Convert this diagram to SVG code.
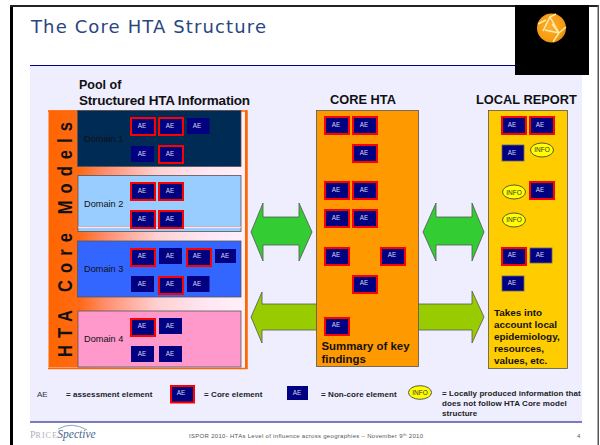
<svg xmlns="http://www.w3.org/2000/svg" width="600" height="445" viewBox="0 0 600 445">
<style>
text{font-family:"Liberation Sans",Arial,sans-serif}
.h{font-size:12.8px;font-weight:bold;fill:#111}
.d{font-size:9.2px;fill:#111}
.ae{font-size:6.3px;fill:#d8d8ee;text-anchor:middle}
.c{fill:#000080;stroke:#ff0000;stroke-width:2}
.n{fill:#000080}
.g{fill:#000080;stroke:#666;stroke-width:.8}
.i{fill:#ffff00;stroke:#333;stroke-width:.8}
.it{font-size:6.5px;fill:#333;text-anchor:middle}
.b{stroke:#555;stroke-width:.8}
.l{font-size:8px;font-weight:bold;fill:#222;letter-spacing:.07px}
.t{font-size:9.9px;font-weight:bold;fill:#111}
.ar{stroke:#555;stroke-width:.8}
</style>
<defs>
<linearGradient id="pg" gradientUnits="userSpaceOnUse" x1="48" y1="0" x2="245" y2="0">
<stop offset="0" stop-color="#ff6600"/><stop offset=".16" stop-color="#ff6a14"/><stop offset=".3" stop-color="#ff9070"/><stop offset=".55" stop-color="#ffd0d0"/><stop offset=".8" stop-color="#ffe6f2"/><stop offset="1" stop-color="#fff0fa"/>
</linearGradient>
<radialGradient id="ball" cx=".45" cy=".45" r=".6"><stop offset="0" stop-color="#ffb030"/><stop offset=".8" stop-color="#f59a10"/><stop offset="1" stop-color="#c8861a"/></radialGradient>
</defs>
<rect width="600" height="445" fill="#fff"/>
<g id="frame">
<rect x="10" y="5" width="3" height="440" fill="#000"/>
<rect x="10" y="5" width="589" height="2" fill="#222"/>
<rect x="597.500" y="5" width="1.500" height="440" fill="#555"/>
</g>
<rect x="30" y="66" width="552" height="356" fill="#eeeeff"/>
<path d="M30 65.500H582" stroke="#000080" stroke-width="1"/>
<path d="M30 422H582" stroke="#000080" stroke-width="1"/>
<text x="31" y="32.500" font-size="18" textLength="235" style='font-family:"DejaVu Sans",Verdana,sans-serif;fill:#2a4580'>The Core HTA Structure</text>
<g id="logo">
<rect x="515" y="5" width="74" height="70" fill="#000"/>
<circle cx="551.500" cy="28" r="14.500" fill="url(#ball)"/>
<path d="M543 31L550 17L559 33L566 27M550 17L556 14M545 30L559 33L553 42M538 24L546 20M559 33L552 24" fill="none" stroke="#ffecb0" stroke-width="1.400"/>
</g>
<g id="pool">
<text class="h" x="79" y="89" style="font-size:12.5px">Pool of</text>
<text class="h" x="79" y="105" textLength="171" style="font-size:13.5px">Structured HTA Information</text>
<rect x="48.500" y="110.500" width="198" height="257" fill="url(#pg)"/>
<path d="M48 111H247V368.500H48" fill="none" stroke="#ff6600" stroke-width="1.500"/>
<rect x="245" y="110" width="2" height="258" fill="#ff6600"/>
<text transform="translate(72,357) rotate(-90) scale(1,1.250)" font-size="16.500" font-weight="bold" fill="#111" letter-spacing="7.100">HTA Core Models</text>
</g>
<g id="connectors">
<path class="ar" fill="#33cc33" d="M251 232L263 203V217H299V203L312 232L299 261V245H263V261Z"/>
<path class="ar" fill="#33cc33" d="M423 232L436 203V217H472V203L484 232L472 261V245H436V261Z"/>
<path class="ar" fill="#99cc00" d="M251 317L262 292V304H472V291L484 317L472 343V330H262V343Z"/>
</g>
<g id="domain-1">
<rect class="b" x="77.500" y="110.500" width="163.500" height="56" fill="#002b55"/>
<text class="d" x="84" y="142">Domain 1</text>
<rect class="c" x="131" y="118" width="24" height="17"/><text class="ae" x="142" y="128">AE</text>
<rect class="c" x="159" y="118" width="24" height="17"/><text class="ae" x="170" y="128">AE</text>
<rect class="n" x="187" y="118" width="22.500" height="16"/><text class="ae" x="197" y="128">AE</text>
<rect class="n" x="131" y="146" width="23" height="16"/><text class="ae" x="142" y="156">AE</text>
<rect class="c" x="159" y="146" width="24" height="17"/><text class="ae" x="170" y="156">AE</text>
</g>
<g id="domain-2">
<rect class="b" x="78" y="175.500" width="163" height="56" fill="#99ccff"/>
<path d="M78 226.500H241" stroke="#ff9a80" stroke-width=".7"/><path d="M78 227.500H241" stroke="#fff" stroke-width=".7"/>
<text class="d" x="84" y="207">Domain 2</text>
<rect class="c" x="131" y="183" width="24" height="17"/><text class="ae" x="142" y="193">AE</text>
<rect class="c" x="159" y="183" width="24" height="17"/><text class="ae" x="170" y="193">AE</text>
<rect class="c" x="131" y="211" width="24" height="17"/><text class="ae" x="142" y="221">AE</text>
<rect class="c" x="159" y="211" width="24" height="17"/><text class="ae" x="170" y="221">AE</text>
</g>
<g id="domain-3">
<rect class="b" x="77.500" y="241" width="163.500" height="56" fill="#3366ff"/>
<text class="d" x="84" y="272">Domain 3</text>
<rect class="c" x="131" y="249" width="24" height="17"/><text class="ae" x="142" y="258">AE</text>
<rect class="n" x="159" y="248" width="23" height="16"/><text class="ae" x="170" y="258">AE</text>
<rect class="c" x="187" y="249" width="24" height="17"/><text class="ae" x="197" y="258">AE</text>
<rect class="n" x="215" y="249" width="21" height="14"/><text class="ae" x="225" y="258">AE</text>
<rect class="n" x="131" y="276" width="23" height="16"/><text class="ae" x="142" y="286">AE</text>
<rect class="c" x="159" y="277" width="24" height="17"/><text class="ae" x="170" y="286">AE</text>
<rect class="n" x="187" y="276" width="22.500" height="16"/><text class="ae" x="197" y="286">AE</text>
</g>
<g id="domain-4">
<rect class="b" x="78" y="311" width="163" height="56" fill="#ff99cc"/>
<text class="d" x="84" y="342">Domain 4</text>
<rect class="c" x="131" y="319" width="24" height="17"/><text class="ae" x="142" y="328">AE</text>
<rect class="n" x="159" y="318" width="23" height="16"/><text class="ae" x="170" y="328">AE</text>
<rect class="n" x="131" y="346" width="23" height="16"/><text class="ae" x="142" y="356">AE</text>
<rect class="n" x="159" y="346" width="23" height="16"/><text class="ae" x="170" y="356">AE</text>
</g>
<g id="core-hta">
<text class="h" x="330" y="104">CORE HTA</text>
<rect class="b" x="316.500" y="110.500" width="102" height="256" fill="#ff9900"/>
<rect class="c" x="325" y="117" width="24" height="17"/><text class="ae" x="336" y="127">AE</text>
<rect class="c" x="353" y="117" width="24" height="17"/><text class="ae" x="364" y="127">AE</text>
<rect class="c" x="353" y="145" width="24" height="17"/><text class="ae" x="364" y="155">AE</text>
<rect class="c" x="325" y="182" width="24" height="17"/><text class="ae" x="336" y="192">AE</text>
<rect class="c" x="353" y="182" width="24" height="17"/><text class="ae" x="364" y="192">AE</text>
<rect class="c" x="325" y="210" width="24" height="17"/><text class="ae" x="336" y="220">AE</text>
<rect class="c" x="353" y="210" width="24" height="17"/><text class="ae" x="364" y="220">AE</text>
<rect class="c" x="325" y="248" width="24" height="17"/><text class="ae" x="336" y="257">AE</text>
<rect class="c" x="381" y="248" width="24" height="17"/><text class="ae" x="392" y="257">AE</text>
<rect class="c" x="353" y="276" width="24" height="17"/><text class="ae" x="364" y="285">AE</text>
<rect class="c" x="325" y="318" width="24" height="17"/><text class="ae" x="336" y="327">AE</text>
<text x="321.500" y="350" font-size="11.400" font-weight="bold" fill="#111">Summary of key</text>
<text x="321.500" y="363" font-size="11.400" font-weight="bold" fill="#111">findings</text>
</g>
<g id="local-report">
<text class="h" x="476" y="104">LOCAL REPORT</text>
<rect class="b" x="488.500" y="110.500" width="79" height="258" fill="#ffcc00"/>
<rect class="c" x="502" y="117" width="24" height="17"/><text class="ae" x="512" y="127">AE</text>
<rect class="c" x="530" y="117" width="24" height="17"/><text class="ae" x="540" y="127">AE</text>
<rect class="g" x="502" y="145" width="22" height="16"/><text class="ae" x="512" y="155">AE</text>
<ellipse class="i" cx="542" cy="150" rx="11.500" ry="7"/><text class="it" x="542" y="152">INFO</text>
<ellipse class="i" cx="514" cy="192" rx="11.500" ry="7"/><text class="it" x="514" y="195">INFO</text>
<rect class="c" x="530" y="182" width="24" height="17"/><text class="ae" x="540" y="192">AE</text>
<ellipse class="i" cx="514" cy="220" rx="11.500" ry="7"/><text class="it" x="514" y="222">INFO</text>
<rect class="c" x="502" y="248" width="24" height="17"/><text class="ae" x="512" y="257">AE</text>
<rect class="g" x="530" y="248" width="22" height="15"/><text class="ae" x="540" y="257">AE</text>
<rect class="g" x="502" y="276" width="22" height="15"/><text class="ae" x="512" y="285">AE</text>
<text class="t" x="494" y="316">Takes into</text>
<text class="t" x="494" y="328">account local</text>
<text class="t" x="494" y="340">epidemiology,</text>
<text class="t" x="494" y="352">resources,</text>
<text class="t" x="494" y="364">values, etc.</text>
</g>
<g id="legend">
<text x="37" y="397" font-size="8" fill="#333">AE</text>
<text class="l" x="66" y="397">= assessment element</text>
<rect class="c" x="171" y="386" width="23" height="16.500"/><text class="ae" x="181" y="395">AE</text>
<text class="l" x="204" y="397">= Core element</text>
<rect class="n" x="287" y="386" width="21" height="14"/><text class="ae" x="297" y="395">AE</text>
<text class="l" x="321" y="397">= Non-core element</text>
<ellipse class="i" cx="420" cy="392.500" rx="11.500" ry="6.800"/><text class="it" x="420" y="395">INFO</text>
<text class="l" x="442" y="396">= Locally produced information that</text>
<text class="l" x="442" y="406">does not follow HTA Core model</text>
<text class="l" x="442" y="416">structure</text>
</g>
<g id="footer">
<path d="M58 429Q72 421 87 430" fill="none" stroke="#8fa3b5" stroke-width="1"/>
<text x="30" y="438" font-size="10" style='font-family:"Liberation Serif",serif;fill:#b0b0b8'>P<tspan font-size="8" letter-spacing="1">RICE</tspan><tspan font-size="11.500" font-style="italic" fill="#4a6a8a" dx="-.5">Spective</tspan></text>
<text x="189" y="437.500" font-size="6" fill="#555" textLength="234">ISPOR 2010- HTAs Level of influence across geographies – November 9<tspan font-size="4" dy="-2">th</tspan><tspan dy="2"> 2010</tspan></text>
<text x="577" y="437.500" font-size="6" fill="#555">4</text>
</g>
</svg>
